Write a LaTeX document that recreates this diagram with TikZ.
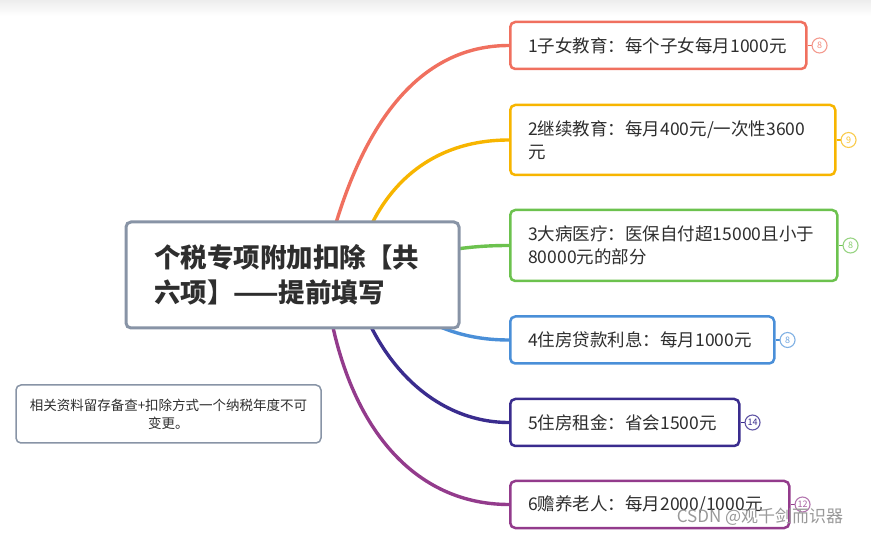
\documentclass[tikz,border=0pt]{standalone}
\usepackage{fontspec}
\setmainfont{Noto Sans CJK SC}
\usepackage{tikz}
\usetikzlibrary{positioning, backgrounds}

\definecolor{txt}{HTML}{2E2E2E}
\definecolor{rootbr}{HTML}{8894A6}
\definecolor{redbr}{HTML}{F0705F}
\definecolor{orgbr}{HTML}{F7B500}
\definecolor{grnbr}{HTML}{6CC24E}
\definecolor{blubr}{HTML}{4A8FD8}
\definecolor{indbr}{HTML}{3A2C8E}
\definecolor{purbr}{HTML}{933B8C}

\begin{document}
\begin{tikzpicture}[
  x=1pt, y=-1pt,
  font=\fontsize{17.5}{23}\selectfont, text=txt,
  node distance=4pt,
  rootbox/.style={draw=rootbr, line width=3pt, rounded corners=5pt, fill=white,
    minimum width=333pt, minimum height=106pt, text width=277pt, inner xsep=28pt,
    align=left, font=\fontsize{26.5}{35}\selectfont\bfseries},
  notebox/.style={draw=rootbr, line width=1.5pt, rounded corners=5pt, fill=white,
    minimum width=305pt, minimum height=58pt, text width=285pt, inner xsep=10pt,
    align=center, font=\fontsize{13.5}{18}\selectfont},
  kid/.style={draw, line width=2.5pt, rounded corners=5pt, fill=white,
    anchor=west, align=left, inner xsep=18pt, inner ysep=0pt, minimum height=47pt},
  badge/.style={circle, draw, line width=1.1pt, fill=white, minimum size=15pt,
    inner sep=0pt, font=\fontsize{9}{9}\selectfont},
  branch/.style={line width=3.4pt, line cap=round},
  wmark/.style={text=black!40, font=\fontsize{17}{20}\selectfont},
]
  \useasboundingbox (0,0) rectangle (871,537);
  \fill[top color=black!7, bottom color=white] (0,0) rectangle (871,16);

  % Root and note
  \node[rootbox] (root) at (292.5,275) {个税专项附加扣除【共\\六项】——提前填写};
  \node[notebox] (note) at (168.5,414) {相关资料留存备查+扣除方式一个纳税年度不可\\变更。};

  % Children
  \node[kid, draw=redbr, text width=260pt] (edu) at (509,45.5) {1子女教育：每个子女每月1000元};
  \node[kid, draw=orgbr, text width=289pt, minimum height=70pt] (cont) at (509,140)
    {2继续教育：每月400元/一次性3600\\元};
  \node[kid, draw=grnbr, text width=291pt, minimum height=71pt] (ill) at (509,245.5)
    {3大病医疗：医保自付超15000且小于\\80000元的部分};
  \node[kid, draw=blubr, text width=228pt] (loan) at (509,340) {4住房贷款利息：每月1000元};
  \node[kid, draw=indbr, text width=193pt] (rent) at (509,422.5) {5住房租金：省会1500元};
  \node[kid, draw=purbr, text width=243pt] (elder) at (509,504.5) {6赡养老人：每月2000/1000元};

  % Badges
  \node[badge, draw=redbr!70, text=redbr!80, right=of edu] (edub) {8};
  \node[badge, draw=orgbr!70, text=orgbr!80, right=of cont] (contb) {9};
  \node[badge, draw=grnbr!70, text=grnbr!80, right=of ill] (illb) {8};
  \node[badge, draw=blubr!70, text=blubr!80, right=of loan] (loanb) {8};
  \node[badge, draw=indbr!80, text=indbr, right=of rent] (rentb) {14};
  \node[badge, draw=purbr!70, text=purbr!80, right=of elder] (elderb) {12};

  \begin{scope}[on background layer]
    \foreach \a/\b/\c in {edu/edub/redbr, cont/contb/orgbr, ill/illb/grnbr,
                          loan/loanb/blubr, rent/rentb/indbr, elder/elderb/purbr}
      \draw[\c, line width=1.5pt] (\a) -- (\b);

    % Branches from root
    \draw[branch, redbr] ([xshift=30pt]root.center) .. controls (350,150) and (405,45.5) .. (edu.west);
    \draw[branch, orgbr] ([xshift=62pt]root.center) .. controls (370,200) and (420,140) .. (cont.west);
    \draw[branch, grnbr] ([xshift=88pt, yshift=10pt]root.center) .. controls (440,250) and (470,245.5) .. (ill.west);
    \draw[branch, blubr] ([xshift=98pt, yshift=-20pt]root.center) .. controls (430,330) and (470,340) .. (loan.west);
    \draw[branch, indbr] ([xshift=62pt, yshift=-10pt]root.center) .. controls (380,370) and (440,422.5) .. (rent.west);
    \draw[branch, purbr] ([xshift=32pt]root.center) .. controls (340,420) and (410,504.5) .. (elder.west);
  \end{scope}

  \node[wmark] (csdn) at (760,517) {CSDN @观千剑而识器};
\end{tikzpicture}
\end{document}
